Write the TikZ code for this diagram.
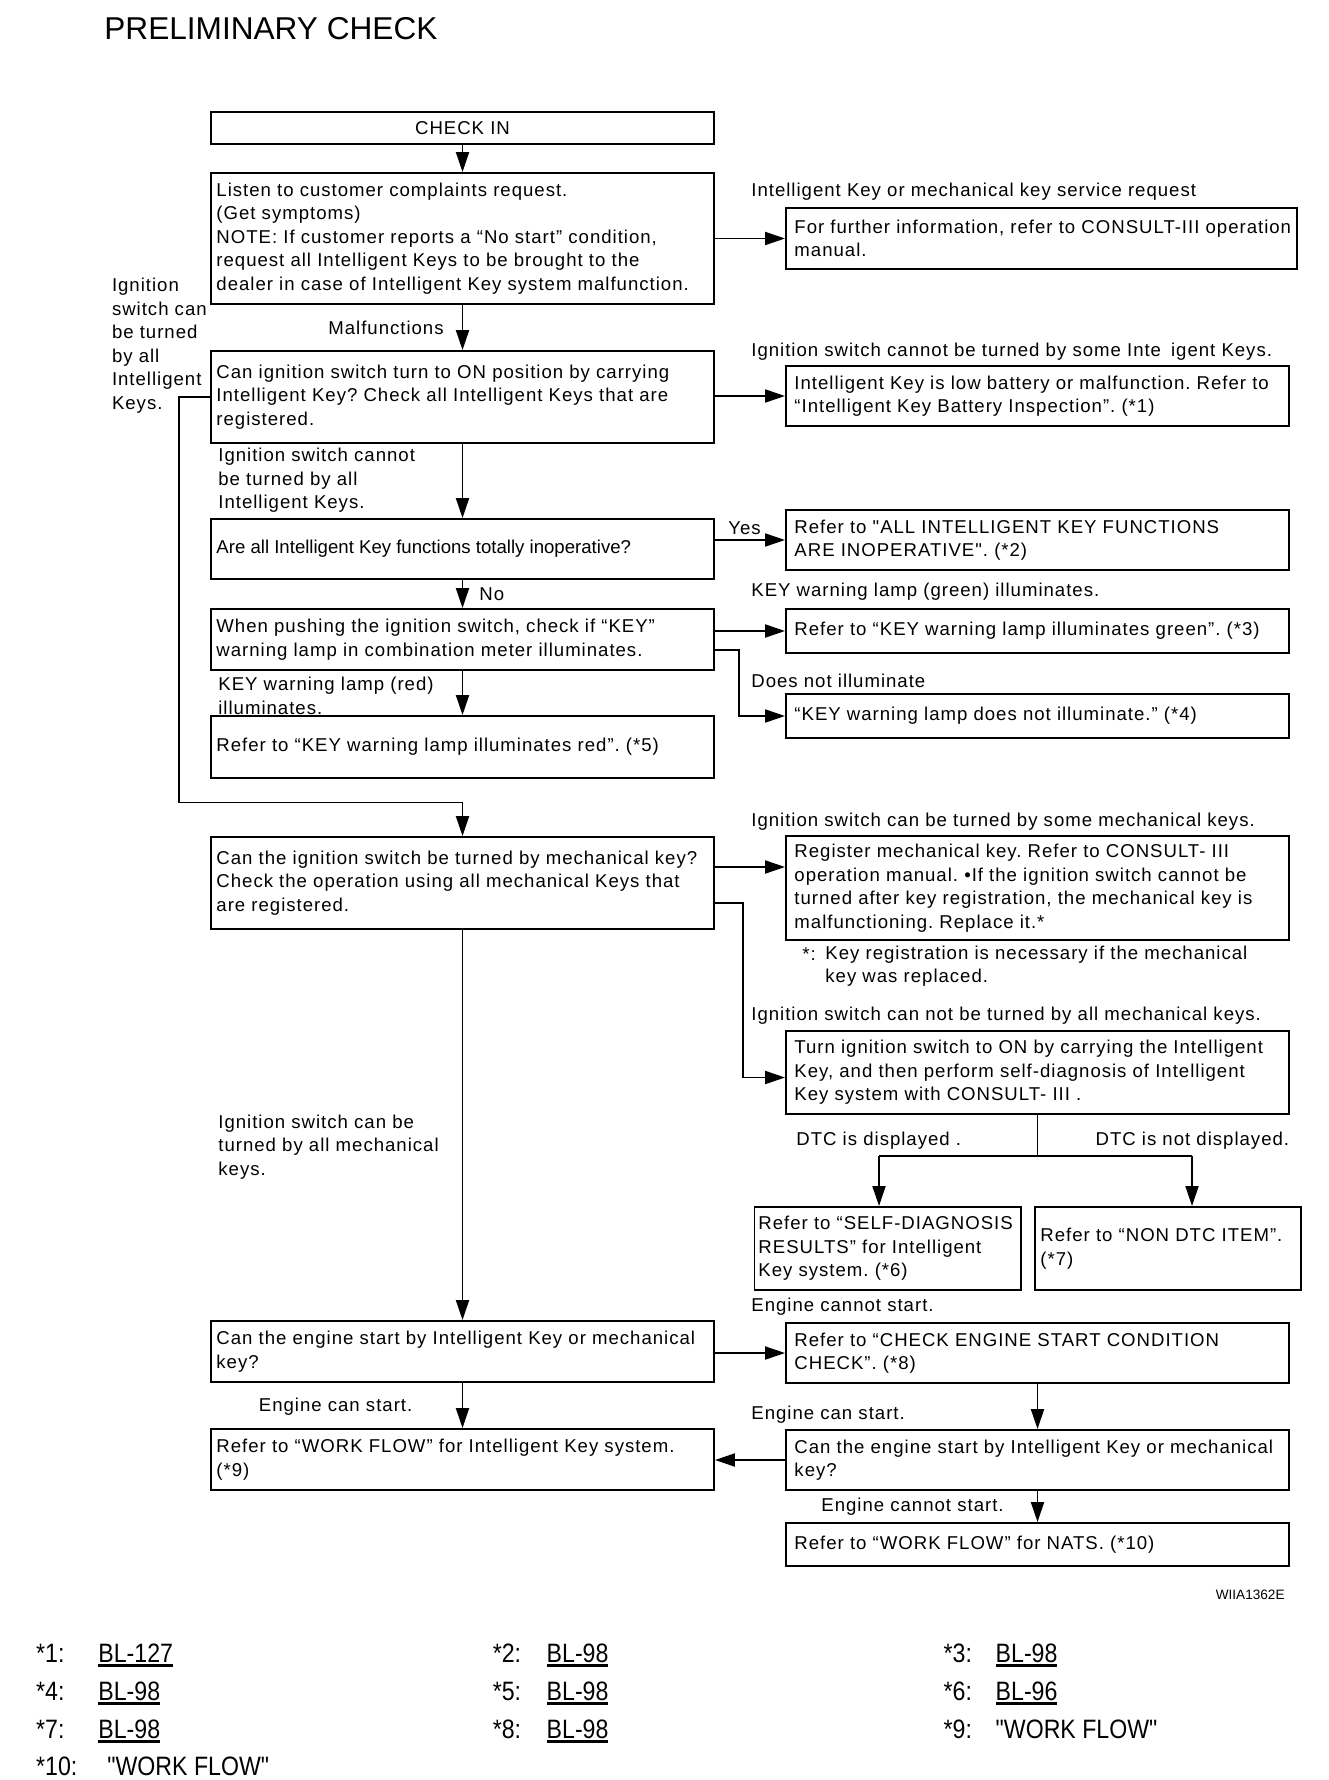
\documentclass[tikz,border=0pt]{standalone}
\usepackage{fontspec}
\setmainfont{Liberation Sans}[LetterSpace=5.3,Ligatures=TeXOff]
\newfontfamily\plainfont{Liberation Sans}[Ligatures=TeXOff]
\newfontfamily\footfont{Liberation Sans}[FakeStretch=0.87,Ligatures=TeXOff]
\usetikzlibrary{arrows.meta,calc}
\frenchspacing
\newcommand\myul[1]{\setbox0\hbox{#1}\rlap{\rule[-2.6pt]{\wd0}{1.4pt}}\box0}
% name, x1, y1, x2, y2, left padding (px), text
\newcommand\flowbox[7]{%
  \node[boxst, minimum width={(#4-#2)*0.5pt}, minimum height={(#5-#3)*0.5pt}] (#1) at ({(#2+#4)/2},{(#3+#5)/2}) {};
  \node[txt, anchor=west] (#1t) at ([xshift={#6*0.5pt}]#1.west) {#7};}
\begin{document}
\begin{tikzpicture}[x=0.5pt,y=-0.5pt,
  boxst/.style={draw, line width=0.95pt, rectangle, inner sep=0pt},
  txt/.style={inner sep=0pt, align=left, font=\fontsize{9.3}{11.75}\selectfont},
  lbl/.style={txt},
  titlest/.style={inner sep=0pt, font=\plainfont\fontsize{15.8}{18}\selectfont},
  foot/.style={inner sep=0pt, font=\footfont\fontsize{13.3}{15}\selectfont},
  conn/.style={line width=0.95pt},
  arr/.style={conn, -{Triangle[length=10pt,width=6.5pt]}}]
\path[use as bounding box] (0,0) rectangle (1328,1780);

\node[titlest, anchor=west] (title) at (104,29) {PRELIMINARY CHECK};

% left column
\node[boxst, font=\fontsize{9.3}{11.75}\selectfont, minimum width=251.5pt, minimum height=16pt] (b1) at (462.5,128) {CHECK IN};
\flowbox{b2}{211}{173}{714}{304}{6}{Listen to customer complaints request.\\(Get symptoms)\\NOTE: If customer reports a “No start” condition,\\request all Intelligent Keys to be brought to the\\dealer in case of Intelligent Key system malfunction.}
\flowbox{b3}{211}{351}{714}{443}{6}{Can ignition switch turn to ON position by carrying\\Intelligent Key? Check all Intelligent Keys that are\\registered.}
\flowbox{b4}{211}{519}{714}{579}{6}{\plainfont Are all Intelligent Key functions totally inoperative?}
\flowbox{b5}{211}{609}{714}{670}{6}{When pushing the ignition switch, check if “KEY”\\warning lamp in combination meter illuminates.}
\flowbox{b6}{211}{716}{714}{778}{6}{Refer to “KEY warning lamp illuminates red”. (*5)}
\flowbox{b7}{211}{837}{714}{929}{6}{Can the ignition switch be turned by mechanical key?\\Check the operation using all mechanical Keys that\\are registered.}
\flowbox{b8}{211}{1321}{714}{1382}{6}{Can the engine start by Intelligent Key or mechanical\\key?}
\flowbox{b9}{211}{1429}{714}{1490}{6}{Refer to “WORK FLOW” for Intelligent Key system.\\(*9)}

% right column
\flowbox{r1}{786}{208}{1297}{269}{9}{For further information, refer to CONSULT-III operation\\manual.}
\flowbox{r2}{786}{366}{1289}{426}{9}{Intelligent Key is low battery or malfunction. Refer to\\“Intelligent Key Battery Inspection”. (*1)}
\flowbox{r3}{786}{510}{1289}{570}{9}{Refer to "ALL INTELLIGENT KEY FUNCTIONS\\ARE INOPERATIVE". (*2)}
\flowbox{r4}{786}{609}{1289}{653}{9}{Refer to “KEY warning lamp illuminates green”. (*3)}
\flowbox{r5}{786}{694}{1289}{738}{9}{“KEY warning lamp does not illuminate.” (*4)}
\flowbox{r6}{786}{836}{1289}{940}{9}{Register mechanical key. Refer to CONSULT- III\\operation manual. •If the ignition switch cannot be\\turned after key registration, the mechanical key is\\malfunctioning. Replace it.*}
\flowbox{r7}{786}{1031}{1289}{1114}{9}{Turn ignition switch to ON by carrying the Intelligent\\Key, and then perform self-diagnosis of Intelligent\\Key system with CONSULT- III .}
\flowbox{s1}{754.5}{1207}{1021}{1290}{4.5}{Refer to “SELF-DIAGNOSIS\\RESULTS” for Intelligent\\Key system. (*6)}
\flowbox{s2}{1035}{1207}{1301}{1290}{6}{Refer to “NON DTC ITEM”.\\(*7)}
\flowbox{r8}{786}{1323}{1289}{1383}{9}{Refer to “CHECK ENGINE START CONDITION\\CHECK”. (*8)}
\flowbox{r10}{786}{1430}{1289}{1490}{9}{Can the engine start by Intelligent Key or mechanical\\key?}
\flowbox{r11}{786}{1523}{1289}{1566}{9}{Refer to “WORK FLOW” for NATS. (*10)}

% labels
\node[lbl, anchor=west] (la) at (111.6,345.8) {Ignition\\switch can\\be turned\\by all\\Intelligent\\Keys.};
\node[lbl, anchor=east] (lb) at (444,328) {Malfunctions};
\node[lbl, anchor=west] (lc) at (218,480.3) {Ignition switch cannot\\be turned by all\\Intelligent Keys.};
\node[lbl, anchor=west] (ld) at (479,594) {No};
\node[lbl, anchor=west] (le) at (218,696) {KEY warning lamp (red)\\illuminates.};
\node[lbl, anchor=west] (lf) at (218,1147) {Ignition switch can be\\turned by all mechanical\\keys.};
\node[lbl, anchor=west] (lg) at (258.5,1407) {Engine can start.};

\node[lbl, anchor=west] (ra) at (751,192) {Intelligent Key or mechanical key service request};
\node[lbl, anchor=west] (rb) at (751,352) {Ignition switch cannot be turned by some Inte\hspace{5pt}igent Keys.};
\node[lbl, anchor=west] (rc) at (728,528) {Yes};
\node[lbl, anchor=west] (rd) at (751,592) {KEY warning lamp (green) illuminates.};
\node[lbl, anchor=west] (re) at (751,681) {Does not illuminate};
\node[lbl, anchor=west] (rf) at (751,822) {Ignition switch can be turned by some mechanical keys.};
\node[lbl, anchor=west] (rg1) at (802,954) {*:};
\node[lbl, anchor=west] (rg2) at (825,966) {Key registration is necessary if the mechanical\\key was replaced.};
\node[lbl, anchor=west] (rh) at (751,1016) {Ignition switch can not be turned by all mechanical keys.};
\node[lbl, anchor=west] (ri) at (796,1141) {DTC is displayed .};
\node[lbl, anchor=east] (rj) at (1289.5,1141) {DTC is not displayed.};
\node[lbl, anchor=west] (rk) at (751,1307) {Engine cannot start.};
\node[lbl, anchor=west] (rl) at (751,1415) {Engine can start.};
\node[lbl, anchor=west] (rm) at (821,1507) {Engine cannot start.};
\node[inner sep=0pt, anchor=east, font=\plainfont\fontsize{6.8}{8}\selectfont] (code) at (1285,1595) {WIIA1362E};

% connectors, main column
\draw[arr] (b1.south) -- (b2.north);
\draw[arr] (b2.south) -- (b3.north);
\draw[arr] (b3.south) -- (b4.north);
\draw[arr] (b4.south) -- (b5.north);
\draw[arr] (b5.south) -- (b6.north);
\coordinate (lp) at (179,802.5);
\draw[arr] (b3.west) -| (lp) -| (b7.north);
\draw[arr] (b7.south) -- (b8.north);
\draw[arr] (b8.south) -- (b9.north);

% connectors to the right
\draw[arr] (b2.east) -- (r1.west);
\draw[arr] (b3.east |- r2.west) -- (r2.west);
\draw[arr] (b4.east |- r3.west) -- (r3.west);
\draw[arr] (b5.east |- r4.west) -- (r4.west);
\coordinate (e5) at (739,649.7);
\draw[arr] (b5.east |- e5) -- (e5) |- (r5.west);
\coordinate (e6) at (750,867);
\draw[arr] (b7.east |- e6) -- (r6.west |- e6);
\coordinate (e7) at (743,902.6);
\coordinate (e7b) at (743,1077.5);
\draw[arr] (b7.east |- e7) -- (e7) -- (e7b) -- (r7.west |- e7b);
\coordinate (spl) at ($(r7.south)+(0,42)$);
\coordinate (ja) at (879,1156);
\coordinate (jb) at (1192,1156);
\draw[conn] (r7.south) -- (spl);
\draw[conn] (ja) -- (jb);
\draw[arr] (ja) -- (ja |- s1.north);
\draw[arr] (jb) -- (jb |- s2.north);
\draw[arr] (b8.east |- r8.west) -- (r8.west);
\draw[arr] (r8.south) -- (r10.north);
\draw[arr] (r10.west) -- (b9.east |- r10.west);
\draw[arr] (r10.south) -- (r11.north);

% footnotes
\node[foot, anchor=base west] (f1k) at (35.8,1662) {*1:};
\node[foot, anchor=base west] (f1v) at (98,1662) {\myul{BL-127}};
\node[foot, anchor=base west] (f2k) at (492.4,1662) {*2:};
\node[foot, anchor=base west] (f2v) at (546.3,1662) {\myul{BL-98}};
\node[foot, anchor=base west] (f3k) at (943.3,1662) {*3:};
\node[foot, anchor=base west] (f3v) at (995.3,1662) {\myul{BL-98}};
\node[foot, anchor=base west] (f4k) at (35.8,1700) {*4:};
\node[foot, anchor=base west] (f4v) at (98,1700) {\myul{BL-98}};
\node[foot, anchor=base west] (f5k) at (492.4,1700) {*5:};
\node[foot, anchor=base west] (f5v) at (546.3,1700) {\myul{BL-98}};
\node[foot, anchor=base west] (f6k) at (943.3,1700) {*6:};
\node[foot, anchor=base west] (f6v) at (995.3,1700) {\myul{BL-96}};
\node[foot, anchor=base west] (f7k) at (35.8,1738) {*7:};
\node[foot, anchor=base west] (f7v) at (98,1738) {\myul{BL-98}};
\node[foot, anchor=base west] (f8k) at (492.4,1738) {*8:};
\node[foot, anchor=base west] (f8v) at (546.3,1738) {\myul{BL-98}};
\node[foot, anchor=base west] (f9k) at (943.3,1738) {*9:};
\node[foot, anchor=base west] (f9v) at (995.3,1738) {"WORK FLOW"};
\node[foot, anchor=base west] (f10k) at (35.8,1775) {*10:};
\node[foot, anchor=base west] (f10v) at (107,1775) {"WORK FLOW"};
\end{tikzpicture}
\end{document}
